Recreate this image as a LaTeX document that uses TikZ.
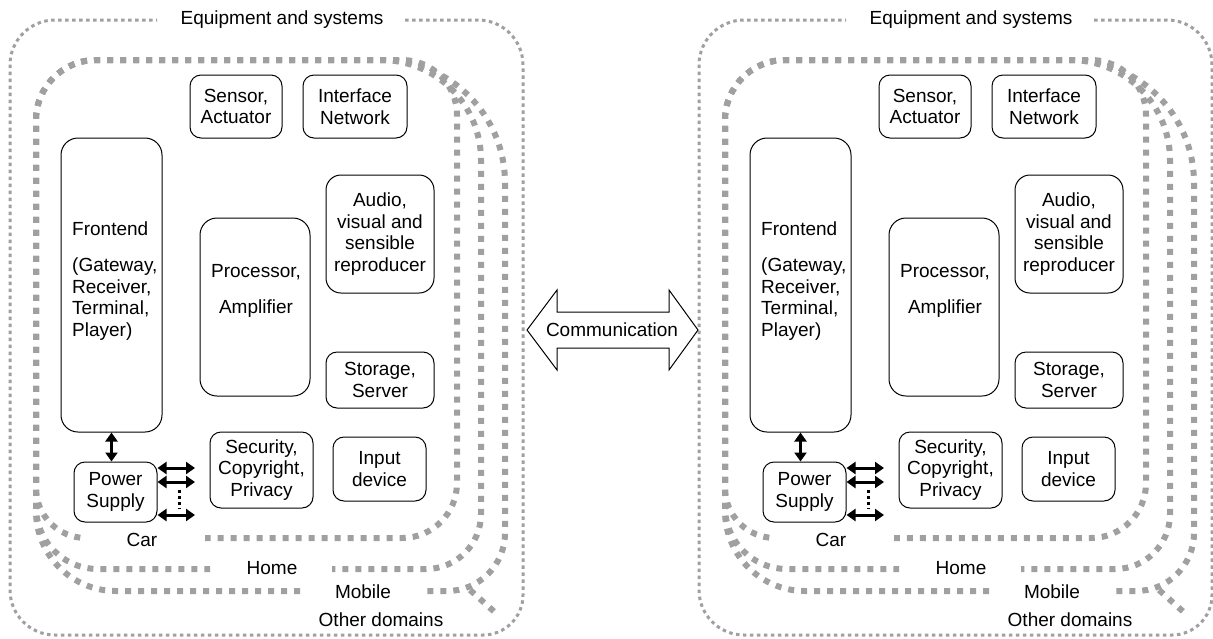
\documentclass[tikz,border=0pt]{standalone}
\usepackage{fontspec}
\setmainfont{Liberation Sans}
\usetikzlibrary{arrows.meta}
\definecolor{dg}{RGB}{160,160,160}
\tikzset{
  thickdash/.style={draw=dg, line width=6pt, dash pattern=on 6pt off 7pt},
  finedot/.style={draw=dg, line width=3pt, dash pattern=on 3.5pt off 3.5pt},
  box/.style={draw, line width=1pt, rounded corners=11pt, align=center, inner sep=0pt},
  txt/.style={inner sep=0pt, align=center},
  dbl/.style={line width=3pt, {Triangle[length=9pt,width=12pt]}-{Triangle[length=9pt,width=12pt]}},
  dotv/.style={line width=3pt, dash pattern=on 3pt off 3pt}
}
% #1 right x, #2 bottom y, #3 top-right radius, #4 bottom-right radius,
% #5 bottom-left radius, #6 gap left end, #7 gap right end
\newcommand{\domainborder}[7]{%
  \draw[thickdash] (120,60) [rounded corners=#3pt] -- (#1,60) [rounded corners=#4pt] -- (#1,#2) [sharp corners] -- (#7,#2);
  \draw[thickdash,dash phase=6pt] (120,60) [rounded corners=60pt] -- (36,60) [rounded corners=#5pt] -- (36,#2) [sharp corners] -- (#6,#2);
}
\begin{document}
\begin{tikzpicture}[x=1pt,y=-1pt,font=\fontsize{19}{21.5}\selectfont]
\useasboundingbox (0,0) rectangle (1213,638);
\foreach \dx/\p in {0/L,689/R}{
\begin{scope}[xshift=\dx pt, name prefix=\p-]
  % outer border: Equipment and systems
  \draw[finedot] (405,20) [rounded corners=45pt] -- (523,20) [rounded corners=40pt] -- (523,635) [rounded corners=45pt] -- (10,635) [rounded corners=45pt] -- (10,20) [sharp corners] -- (157,20);
  \node[txt] (eqs) at (282,20) {Equipment and systems};
  % domain borders
  \domainborder{505}{591}{123}{58}{80}{302}{423}
  \domainborder{481}{569}{100}{55}{62}{210}{332}
  \domainborder{457}{538}{55}{55}{50}{86}{205}
  \coordinate (od1) at (470,590);
  \coordinate (od2) at (498,615);
  \draw[thickdash] (od1) -- (od2);
  \node[txt] (car) at (142,540) {Car};
  \node[txt] (home) at (272,568) {Home};
  \node[txt] (mob) at (363,592) {Mobile};
  \node[txt] (oth) at (381,620) {Other domains};
  % boxes
  \node[box, minimum width=92pt, minimum height=63pt] (sen) at (236,106.5) {Sensor,\\Actuator};
  \node[box, minimum width=104pt, minimum height=63pt] (ifn) at (355,106.5) {Interface\\Network};
  \node[box, rounded corners=17pt, minimum width=101pt, minimum height=294pt] (fe) at (111.5,285) {};
  \node[txt, align=left, anchor=west] (fet) at (72,281) {Frontend\\[15pt](Gateway,\\Receiver,\\Terminal,\\Player)};
  \node[box, rounded corners=17pt, minimum width=110pt, minimum height=178pt] (pro) at (255,307) {};
  \node[txt] (prot) at (256,291) {Processor,\\[15pt]Amplifier};
  \node[box, rounded corners=15pt, minimum width=108pt, minimum height=118pt] (avr) at (380,234) {Audio,\\visual and\\sensible\\reproducer};
  \node[box, minimum width=108pt, minimum height=56pt] (sto) at (380,380) {Storage,\\Server};
  \node[box, minimum width=103pt, minimum height=76pt] (sec) at (261.5,470) {Security,\\Copyright,\\Privacy};
  \node[box, minimum width=93pt, minimum height=64pt] (inp) at (379.5,469) {Input\\device};
  \node[box, minimum width=83pt, minimum height=60pt] (ps) at (115.5,492) {Power\\Supply};
  % arrows
  \draw[dbl] (fe.south) -- (fe.south |- ps.north);
  \coordinate (h1) at (195,468);
  \coordinate (h2) at (195,482);
  \coordinate (h3) at (195,515);
  \draw[dbl] (h1 -| ps.east) -- (h1);
  \draw[dbl] (h2 -| ps.east) -- (h2);
  \draw[dbl] (h3 -| ps.east) -- (h3);
  \coordinate (d1) at (179,490);
  \coordinate (d2) at (179,509);
  \draw[dotv] (d1) -- (d2);
\end{scope}
}
% communication block arrow
\draw[line width=1pt, fill=white, line join=miter] (527,330) -- (557,290) -- (557,312) -- (669,312) -- (669,290) -- (698,330) -- (669,370) -- (669,348) -- (557,348) -- (557,370) -- cycle;
\node[txt] (comm) at (612,330) {Communication};
\end{tikzpicture}
\end{document}
